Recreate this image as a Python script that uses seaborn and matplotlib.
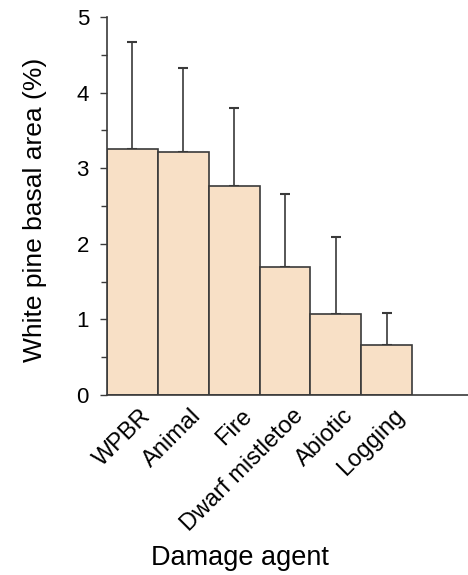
import matplotlib
matplotlib.use("Agg")
import matplotlib.pyplot as plt
import matplotlib.transforms as mtransforms
import seaborn as sns
import pandas as pd
from matplotlib.ticker import MultipleLocator

# Mean white pine basal area affected by each damage agent, with upper SD
agents = ["WPBR", "Animal", "Fire", "Dwarf mistletoe", "Abiotic", "Logging"]
basal_area = [3.25, 3.21, 2.77, 1.69, 1.07, 0.66]
upper_error = [1.42, 1.12, 1.03, 0.97, 1.02, 0.42]

df = pd.DataFrame({"agent": agents, "pct": basal_area, "err": upper_error})

sns.set_theme(style="ticks")
plt.rcParams["font.family"] = ["Liberation Sans", "DejaVu Sans"]

fig = plt.figure(figsize=(4.68, 5.75), dpi=100)
ax = fig.add_axes([107 / 468, 180 / 575, (468 - 107) / 468, (395 - 17) / 575])

edge = "#3a3a3a"
sns.barplot(data=df, x="agent", y="pct", ax=ax, color="#F8E0C6",
            saturation=1, width=1.0, edgecolor=edge, linewidth=1.2,
            errorbar=None, zorder=2)

# one-sided (upper) error bars
ax.errorbar(range(len(agents)), df["pct"], yerr=[[0] * len(agents), df["err"]],
            fmt="none", ecolor=edge, elinewidth=1.2, capsize=3.4,
            capthick=1.5, zorder=1)

ax.set_xlim(-0.5, 6.6)
ax.set_ylim(0, 5)
ax.yaxis.set_major_locator(MultipleLocator(1))
ax.yaxis.set_minor_locator(MultipleLocator(0.5))

for s in ["top", "right"]:
    ax.spines[s].set_visible(False)
for s in ["left", "bottom"]:
    ax.spines[s].set_color(edge)
    ax.spines[s].set_linewidth(1.2)

ax.tick_params(axis="y", which="major", length=5, width=1.0, color=edge,
               labelsize=16, pad=8, labelcolor="black")
ax.tick_params(axis="y", which="minor", length=4, width=1.0, color=edge)
ax.tick_params(axis="x", length=0, labelsize=17, pad=5, labelcolor="black")

ax.set_xticks(range(len(agents)))
ax.set_xticklabels(agents, rotation=45, ha="right", rotation_mode="anchor")
shift = mtransforms.ScaledTranslation(5 / 72, -2 / 72, fig.dpi_scale_trans)
for lab in ax.get_xticklabels():
    lab.set_transform(lab.get_transform() + shift)

ax.set_xlabel("Damage agent", fontsize=19.5, color="black")
ax.xaxis.set_label_coords(0.367, -0.398)
ax.set_ylabel("White pine basal area (%)", fontsize=19, color="black")
ax.yaxis.set_label_coords(-0.165, 0.49)

fig.savefig("out.png", dpi=100)
